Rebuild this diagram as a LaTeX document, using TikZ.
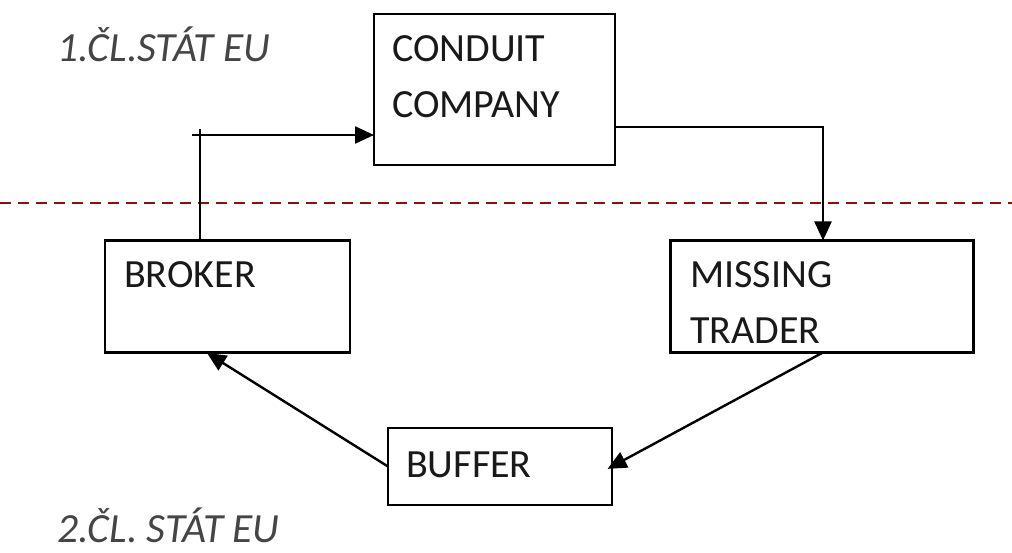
\documentclass[tikz,border=0pt]{standalone}
\usepackage{fontspec}
\setmainfont{Carlito}
\usetikzlibrary{arrows.meta,calc}
\definecolor{sepred}{HTML}{8B1010}
\definecolor{labgray}{HTML}{454545}
\begin{document}
\begin{tikzpicture}[x=1pt,y=-1pt,
  box/.style={draw=black,line width=2.8pt,fill=white,inner sep=0pt,outer sep=0pt},
  txt/.style={anchor=base west,inner sep=0pt,font=\fontsize{40}{56}\selectfont,text=black!90},
  lab/.style={anchor=base west,inner sep=0pt,font=\fontsize{41.5}{56}\selectfont\itshape,text=labgray},
  arr/.style={draw=black,line width=2.4pt,-{Triangle[length=19pt,width=17pt]}},
  sep/.style={draw=sepred,line width=2.4pt,dash pattern=on 11pt off 7pt}]
\useasboundingbox (0,0) rectangle (1012,553);
\fill[white] (0,0) rectangle (1012,553);
% separator
\coordinate (sl) at (0,203);
\coordinate (sr) at (1012,203);
\draw[sep] (sl) -- (sr);
% boxes
\node[box,minimum width=241pt,minimum height=151pt] (conduit) at (494.5,89.5) {};
\node[box,minimum width=245pt,minimum height=112pt] (broker) at (227.5,296.5) {};
\node[box,minimum width=303pt,minimum height=112pt] (missing) at (822,296.5) {};
\node[box,minimum width=224pt,minimum height=77pt] (buffer) at (500,466.5) {};
% texts
\node[txt] (t1) at (392,62) {CONDUIT};
\node[txt] (t2) at (392,118) {COMPANY};
\node[txt] (t3) at (124,288) {BROKER};
\node[txt] (t4) at (690,288) {MISSING};
\node[txt] (t5) at (690,344) {TRADER};
\node[txt] (t6) at (406,477) {BUFFER};
\node[lab] (l1) at (57,62) {1.ČL.STÁT EU};
\node[lab] (l2) at (57,542) {2.ČL. STÁT EU};
% connectors
\coordinate (c1) at (200,135);
\draw[arr] (broker.north -| c1) |- (conduit.west |- c1);
\draw[line width=2.4pt] (c1) -- ++(0,-6);
\draw[line width=2.4pt] (c1) -- ++(-8,0);
\coordinate (c2) at (823,127);
\draw[arr] (conduit.east |- c2) -| (missing.north -| c2);
\coordinate (c3) at (822,353);
\draw[arr,shorten >=-5pt] (c3) -- (buffer.east);
\coordinate (c4) at (207,353);
\draw[arr] (buffer.west) -- (c4);
\end{tikzpicture}
\end{document}
